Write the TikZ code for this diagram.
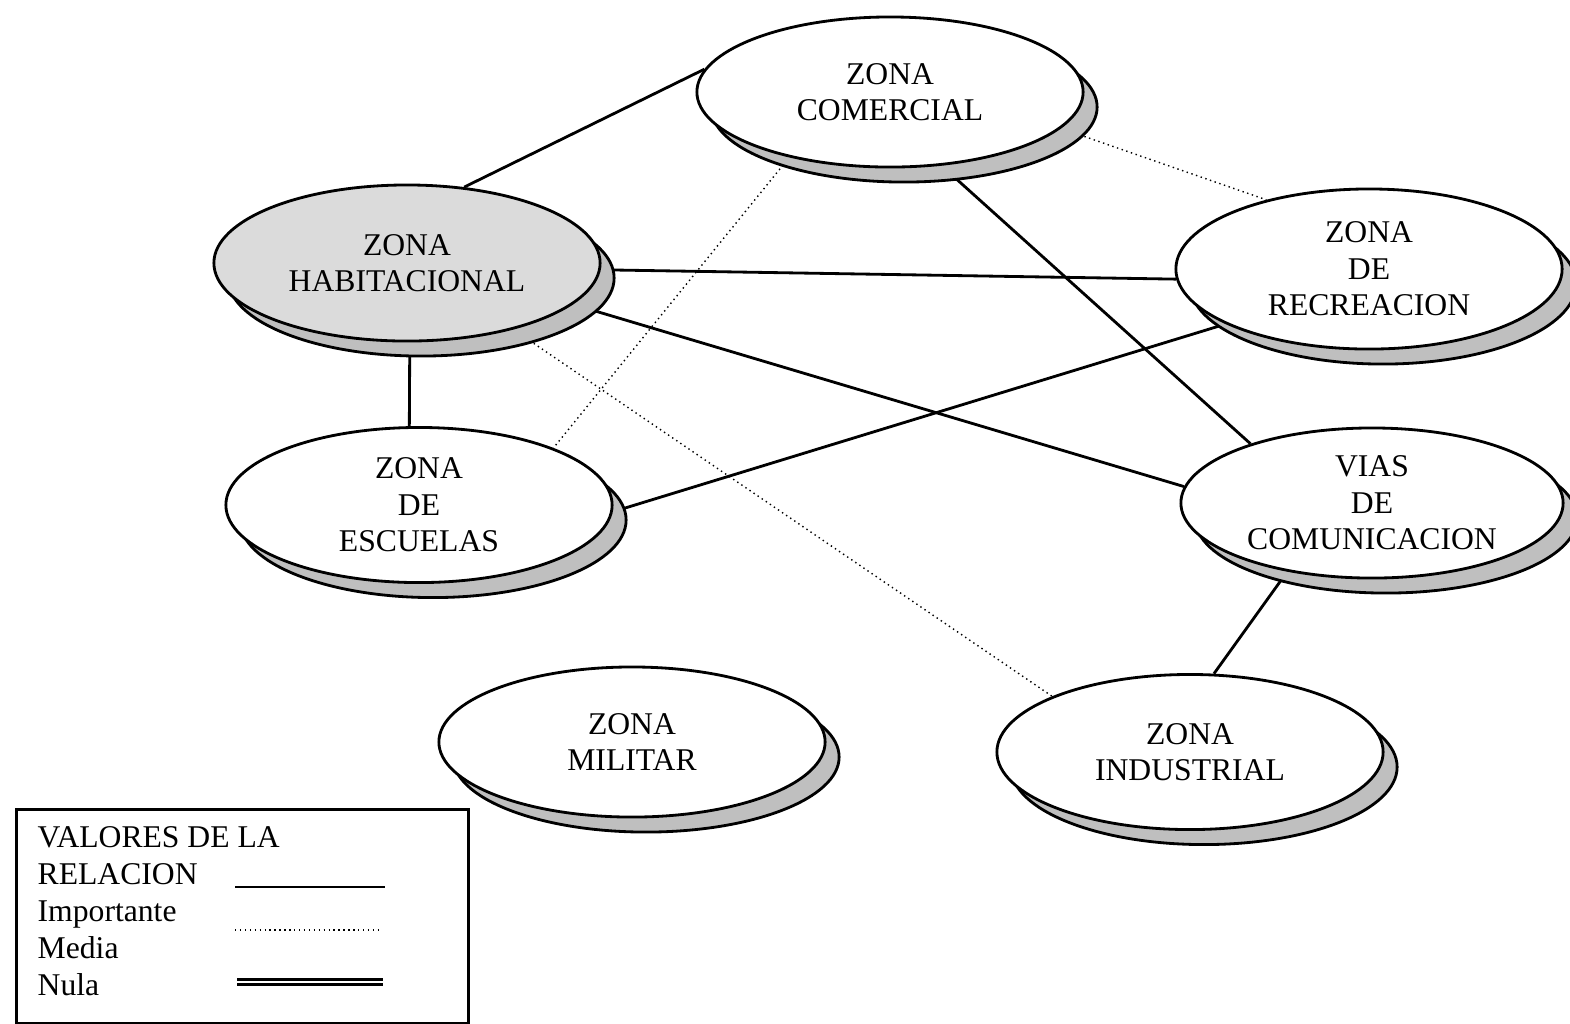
\documentclass[tikz,border=0pt]{standalone}
\usepackage{fontspec}
\setmainfont{Liberation Serif}
\usepackage{tikz}
\usetikzlibrary{shapes.geometric, shadows, backgrounds, positioning}

\begin{document}
\begin{tikzpicture}[x=0.01cm, y=-0.01cm,
		zona/.style={ellipse, draw, thick, fill=white, inner sep=0pt, align=center,
			minimum width=3.86cm, minimum height=1.5cm,
			font=\fontsize{9}{10.4}\selectfont,
			drop shadow={shadow xshift=0.14cm, shadow yshift=-0.15cm, opacity=1, fill=gray!50, draw=black, thick}},
		fuerte/.style={thick},
		media/.style={densely dotted, thin},
		nula/.style={double, line width=0.7pt, double distance=0.7pt}]
	\useasboundingbox (0,0) rectangle (1570,1023);
	% zonas
	\node[zona] (z_com) at (890,92) {ZONA\\COMERCIAL};
	\node[zona, fill=gray!28, minimum height=1.56cm] (z_hab) at (407,263) {ZONA\\HABITACIONAL};
	\node[zona, minimum height=1.6cm] (z_rec) at (1369,269) {ZONA\\DE\\RECREACION};
	\node[zona, minimum height=1.55cm] (z_esc) at (419,505) {ZONA\\DE\\ESCUELAS};
	\node[zona, minimum width=3.82cm] (z_via) at (1372,503) {VIAS\\DE\\COMUNICACION};
	\node[zona] (z_mil) at (632,742) {ZONA\\MILITAR};
	\node[zona, minimum height=1.55cm] (z_ind) at (1190,752) {ZONA\\INDUSTRIAL};
	% relaciones
	\begin{scope}[on background layer]
		\path[fuerte]
		(z_hab.53) edge (z_com.173)
		(z_com.-55) edge (z_via.154)
		(z_hab.-2) edge (z_rec.183)
		(z_hab.-14) edge (z_via.175)
		(z_hab.-88) edge (z_esc.97)
		(z_esc.-2) edge (z_rec.-159)
		(z_via.-141) edge (z_ind.73);
		\path[media]
		(z_com.-12) edge (z_rec.146)
		(z_com.-147) edge (z_esc.23)
		(z_hab.-32) edge (z_ind.158);
	\end{scope}
	% leyenda
	\node[draw, thick, minimum width=4.52cm, minimum height=2.14cm, anchor=north west] (ley) at (15,808) {};
	\node[anchor=north west, inner sep=0pt, align=left, font=\fontsize{9}{10.5}\selectfont]
		(ley_txt) at (37,826) {VALORES DE LA\\RELACION\\Importante\\Media\\Nula};
	\coordinate (l_a1) at (235,887); \coordinate (l_b1) at (385,887);
	\coordinate (l_a2) at (235,930); \coordinate (l_b2) at (382,930);
	\coordinate (l_a3) at (237,982); \coordinate (l_b3) at (383,982);
	\draw[fuerte] (l_a1) -- (l_b1);
	\draw[media] (l_a2) -- (l_b2);
	\draw[nula] (l_a3) -- (l_b3);
\end{tikzpicture}
\end{document}
